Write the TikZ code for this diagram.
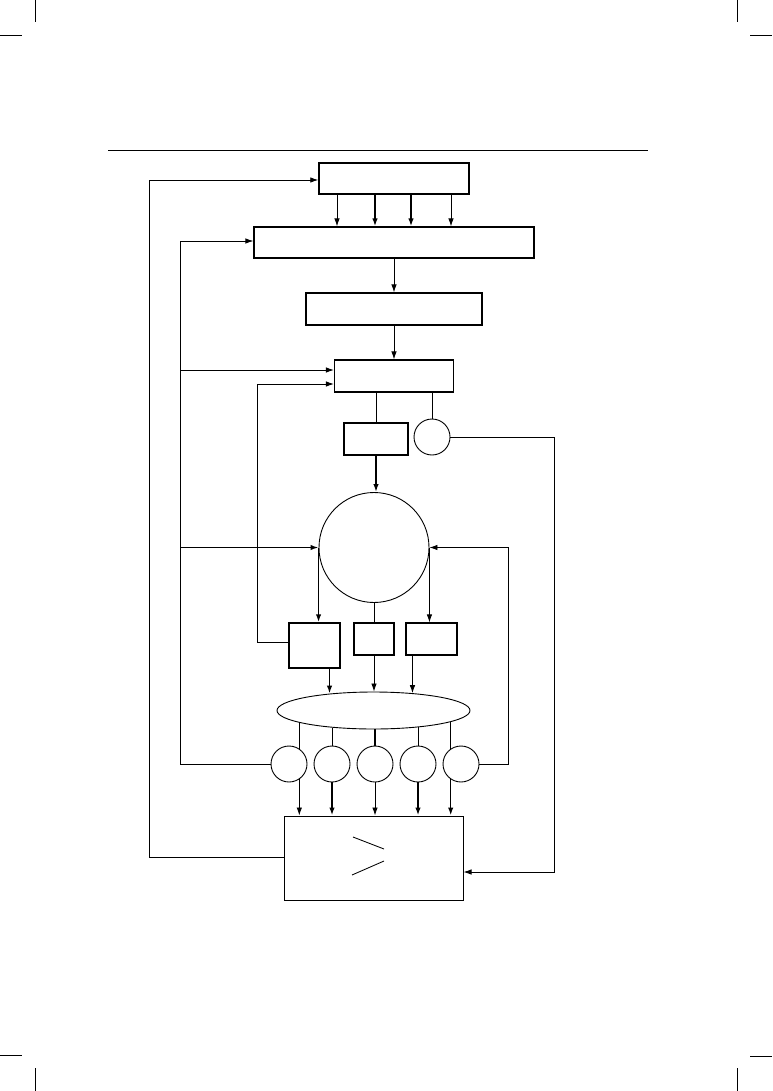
\documentclass[tikz,border=0pt]{standalone}
\usepackage{tikz}
\usetikzlibrary{arrows.meta,shapes.geometric}
\tikzset{
  >={Latex[length=8pt,width=5.5pt]},
  blk/.style={draw,rectangle,inner sep=0pt,line width=1.2pt},
  rnd/.style={draw,circle,inner sep=0pt,minimum size=36pt,line width=0.9pt},
  ln/.style={line width=0.85pt},
  bold/.style={line width=1.6pt}
}
\begin{document}
\begin{tikzpicture}[x=1pt,y=-1pt,ln]
				\useasboundingbox (0,0) rectangle (772,1091);
				% crop marks and rule
				\draw[line width=0.6pt] (35,0)--(35,22) (0,35)--(22,35);
				\draw[line width=0.6pt] (737,0)--(737,22) (750,35)--(772,35);
				\draw[line width=0.6pt] (0,1055)--(22,1055) (35,1068)--(35,1091);
				\draw[line width=0.6pt] (750,1056)--(772,1056) (737,1068)--(737,1091);
				\draw[line width=0.9pt] (108,150)--(648,150);

				% blocks
				\node[blk,line width=1.5pt,minimum width=150pt,minimum height=31pt] (top) at (394,178.5) {};
				\node[blk,minimum width=280pt,minimum height=31pt] (wide) at (394,242.5) {};
				\node[blk,minimum width=176pt,minimum height=32pt] (mid) at (394,309) {};
				\node[blk,minimum width=119pt,minimum height=32pt] (sel) at (394,376) {};
				\node[blk,minimum width=64pt,minimum height=32pt] (sq) at (376,439) {};
				\node[rnd] (dot) at (432,437) {};
				\node[draw,circle,inner sep=0pt,minimum size=110pt,line width=0.9pt] (hub) at (374,547.5) {};
				\node[blk,line width=1.5pt,minimum width=51pt,minimum height=45pt] (ga) at (314.5,645.5) {};
				\node[blk,minimum width=40pt,minimum height=32pt] (gb) at (374,639) {};
				\node[blk,minimum width=51pt,minimum height=32pt] (gc) at (431.5,639) {};
				\node[draw,ellipse,inner sep=0pt,minimum width=193pt,minimum height=37pt,line width=0.9pt] (pool) at (373.5,710.5) {};
				\foreach \x [count=\i] in {289,332,375,418,461}
				\node[rnd] (c\i) at (\x,764) {};
				\node[blk,line width=1pt,minimum width=179pt,minimum height=84pt] (out) at (373.5,858) {};
				\draw (353,837)--(384,849) (352,875)--(384,861);

				% downward flow
				\foreach \dx/\w in {-57/ln,-19/bold,17/bold,57/ln}
				{
					\coordinate (t) at ([xshift=\dx]top.south);
					\draw[->,\w] (t) -- (t |- wide.north);
				};
				\draw[->] (wide.south) -- (mid.north);
				\draw[->] (mid.south) -- (sel.north);
				\draw (sq.north) -- (sq.north |- sel.south);
				\draw (dot.north) -- (dot.north |- sel.south);
				\draw[->,bold] (sq.south) -- (sq.south |- hub.north);
				\draw[->,bold] (hub.west) -- (hub.west |- ga.north);
				\draw[->] (hub.east) -- (hub.east |- gc.north);
				\draw (hub.south) -- (gb.north);
				\draw[->,bold] (pool.159 |- ga.south) -- (pool.159);
				\draw[->] (gb.south) -- (gb.south |- pool.north);
				\draw[->] (pool.24 |- gc.south) -- (pool.24);

				\draw[bold] (c1.56 |- pool.189) -- (c1.56);
				\draw (c2.north |- pool.202) -- (c2.north);
				\draw[bold] (c3.north |- pool.south) -- (c3.north);
				\draw (c4.north |- pool.340) -- (c4.north);
				\draw[bold] (c5.124 |- pool.352) -- (c5.124);
				\foreach \a/\w in {c1.304/ln,c2.south/bold,c3.south/ln,c4.south/bold,c5.236/bold}
				\draw[->,\w] (\a) -- (\a |- out.north);

				% feedback
				\coordinate (bus) at (181,0);
				\coordinate (dIn) at ([yshift=6]sel.west);
				\draw[->] (c1.west) -- ++(-90,0) |- ([yshift=1.5]wide.west);
				\draw[->] (bus |- dIn) -- (dIn);
				\draw[->,bold] (bus |- hub.west) -- (hub.west);
				\draw[->] ([yshift=3]ga.west) -- ++(-31,0) |- ([yshift=-8]sel.west);
				\draw[->] (c5.east) -- ++(29,0) |- (hub.east);
				\draw[->] (dot.east) -- ++(104,0) |- ([yshift=-14]out.east);
				\draw[->] ([yshift=1]out.west) -- ++(-134,0) |- ([yshift=-1.5]top.west);
			\end{tikzpicture}
\end{document}
